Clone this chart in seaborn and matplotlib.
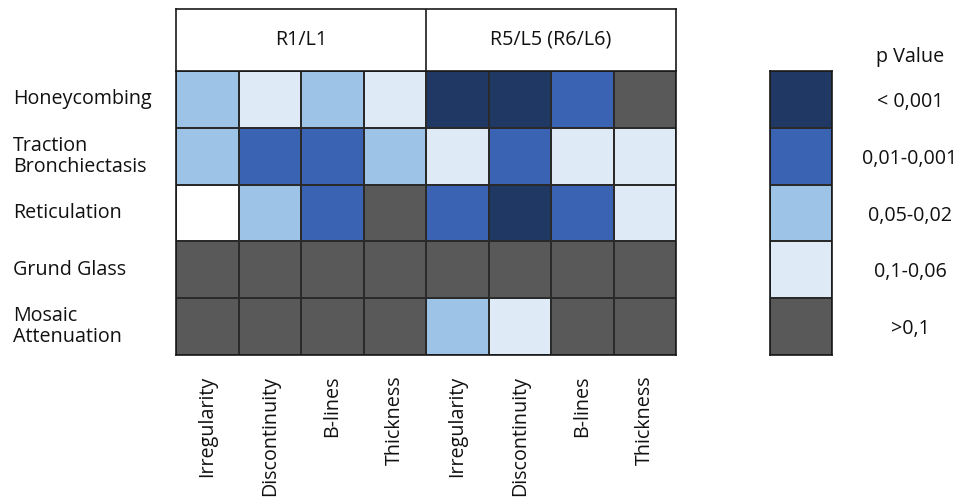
import numpy as np
import pandas as pd
import matplotlib
matplotlib.use("Agg")
import matplotlib.pyplot as plt
from matplotlib.colors import ListedColormap
import seaborn as sns

# ---- data ----
rows = ["Honeycombing", "Traction\nBronchiectasis", "Reticulation", "Grund Glass", "Mosaic\nAttenuation"]
cols = ["Irregularity", "Discontinuity", "B-lines", "Thickness",
        "Irregularity", "Discontinuity", "B-lines", "Thickness"]
groups = ["R1/L1", "R5/L5 (R6/L6)"]
# category codes: 0 = no value, 1 = >0,1, 2 = 0,1-0,06, 3 = 0,05-0,02, 4 = 0,01-0,001, 5 = <0,001
honeycombing = [3, 2, 3, 2, 5, 5, 4, 1]
traction = [3, 4, 4, 3, 2, 4, 2, 2]
reticulation = [0, 3, 4, 1, 4, 5, 4, 2]
grund_glass = [1, 1, 1, 1, 1, 1, 1, 1]
mosaic = [1, 1, 1, 1, 3, 2, 1, 1]
legend_codes = [5, 4, 3, 2, 1]
legend_labels = ["< 0,001", "0,01-0,001", "0,05-0,02", "0,1-0,06", ">0,1"]
legend_title = "p Value"

colors = ["#FFFFFF", "#595959", "#DEEAF6", "#9DC3E6", "#3A63B3", "#203864"]
cmap = ListedColormap(colors)

sns.set_theme(style="white")
plt.rcParams["font.family"] = ["Open Sans", "DejaVu Sans"]
FS = 14.2

fig = plt.figure(figsize=(9.6, 5), dpi=100)
W, H = 960, 500

def ax_px(x0, y0, x1, y1):
    return fig.add_axes([x0 / W, 1 - y1 / H, (x1 - x0) / W, (y1 - y0) / H])

df = pd.DataFrame([honeycombing, traction, reticulation, grund_glass, mosaic],
                  index=rows, columns=range(len(cols)))

ax = ax_px(176, 71, 676, 355)
sns.heatmap(df, ax=ax, cmap=cmap, vmin=-0.5, vmax=5.5, cbar=False,
            linewidths=1.2, linecolor="#2a2a2a")
ax.set_xticklabels(cols, rotation=90, fontsize=FS, va="top", ha="center")
ax.set_yticklabels(rows, rotation=0, fontsize=FS, ha="left", linespacing=1.05)
ax.tick_params(axis="x", length=0, pad=15)
ax.tick_params(axis="y", length=0, pad=(176 - 13) * 72 / 100)
ax.set_xlabel("")
ax.set_ylabel("")
for s in ax.spines.values():
    s.set_visible(True)
    s.set_color("#1a1a1a")
    s.set_linewidth(1.2)

# header
axh = ax_px(176, 9, 676, 71)
axh.set_xlim(0, len(cols))
axh.set_ylim(0, 1)
axh.set_xticks([])
axh.set_yticks([])
axh.set_facecolor("white")
for s in axh.spines.values():
    s.set_visible(True)
    s.set_color("#1a1a1a")
    s.set_linewidth(1.2)
half = len(cols) // 2
axh.axvline(half, color="#1a1a1a", lw=1.2)
for i, g in enumerate(groups):
    axh.text(half * i + half / 2, 0.5, g, ha="center", va="center", fontsize=FS, color="#111111")

# legend
axl = ax_px(770, 71, 832, 355)
ldf = pd.DataFrame({"p": legend_codes}, index=legend_labels)
sns.heatmap(ldf, ax=axl, cmap=cmap, vmin=-0.5, vmax=5.5, cbar=False,
            linewidths=1.2, linecolor="#2a2a2a")
axl.set_xticks([])
axl.yaxis.tick_right()
axl.set_yticks(np.arange(len(legend_labels)) + 0.5)
axl.set_yticklabels(legend_labels, rotation=0, fontsize=FS, ha="center")
axl.tick_params(axis="y", length=0, pad=(910 - 832) * 72 / 100)
axl.set_ylabel("")
for s in axl.spines.values():
    s.set_visible(True)
    s.set_color("#1a1a1a")
    s.set_linewidth(1.2)
fig.text(910 / W, 1 - 57 / H, legend_title, ha="center", va="center", fontsize=FS, color="#111111")

for t in ax.get_xticklabels() + ax.get_yticklabels() + axl.get_yticklabels():
    t.set_color("#111111")

fig.savefig("out.png", dpi=100, facecolor="white")
